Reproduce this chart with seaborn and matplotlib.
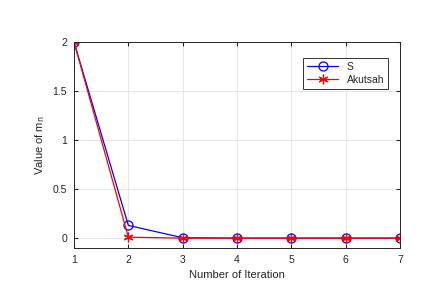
import matplotlib
matplotlib.use("Agg")
import matplotlib.pyplot as plt
import seaborn as sns
import pandas as pd

iterasi = [1, 2, 3, 4, 5, 6, 7]
nilai_s = [2.0, 0.13, 0.004, 0.0, 0.0, 0.0, 0.0]
nilai_akutsah = [2.0, 0.01, 0.0, 0.0, 0.0, 0.0, 0.0]

sns.set_style("whitegrid")
plt.rcParams['font.family'] = ['Liberation Sans', 'DejaVu Sans']

df = pd.DataFrame({'Iterasi': iterasi, 'S': nilai_s, 'Akutsah': nilai_akutsah})

fig = plt.figure(figsize=(4.38, 2.9), dpi=100)
ax = fig.add_axes([0.169, 0.145, 0.744, 0.71])

sns.lineplot(data=df, x='Iterasi', y='S', ax=ax, color='blue', marker='o',
             markersize=6.5, markerfacecolor='none', markeredgecolor='blue',
             markeredgewidth=0.9, linewidth=0.9, label='S')
sns.lineplot(data=df, x='Iterasi', y='Akutsah', ax=ax, color='red',
             marker=(6, 2, 0), markersize=7, markerfacecolor='red',
             markeredgecolor='red', markeredgewidth=0.9,
             linewidth=0.9, label='Akutsah')

ax.set_xlim(1, 7)
ax.set_ylim(-0.1, 2)
ax.set_xticks(iterasi)
ax.set_yticks([0, 0.5, 1, 1.5, 2])
ax.set_yticklabels(['0', '0.5', '1', '1.5', '2'])
ax.set_xlabel('Number of Iteration', fontsize=8)
ax.set_ylabel('Value of m$_\\mathrm{n}$', fontsize=8)
ax.tick_params(labelsize=7.5, length=3, direction='in', color='#262626',
               left=True, bottom=True, top=True, right=True, pad=5)
ax.grid(True, color='#e6e6e6', linewidth=0.7)
for s in ax.spines.values():
    s.set_color('#262626')
    s.set_linewidth(0.7)

leg = ax.legend(loc='upper right', bbox_to_anchor=(0.98, 0.95), fontsize=7.5,
                frameon=True, fancybox=False, edgecolor='black',
                handlelength=3, borderpad=0.4, labelspacing=0.3)
leg.get_frame().set_linewidth(0.7)

plt.savefig('out.png', dpi=100)
